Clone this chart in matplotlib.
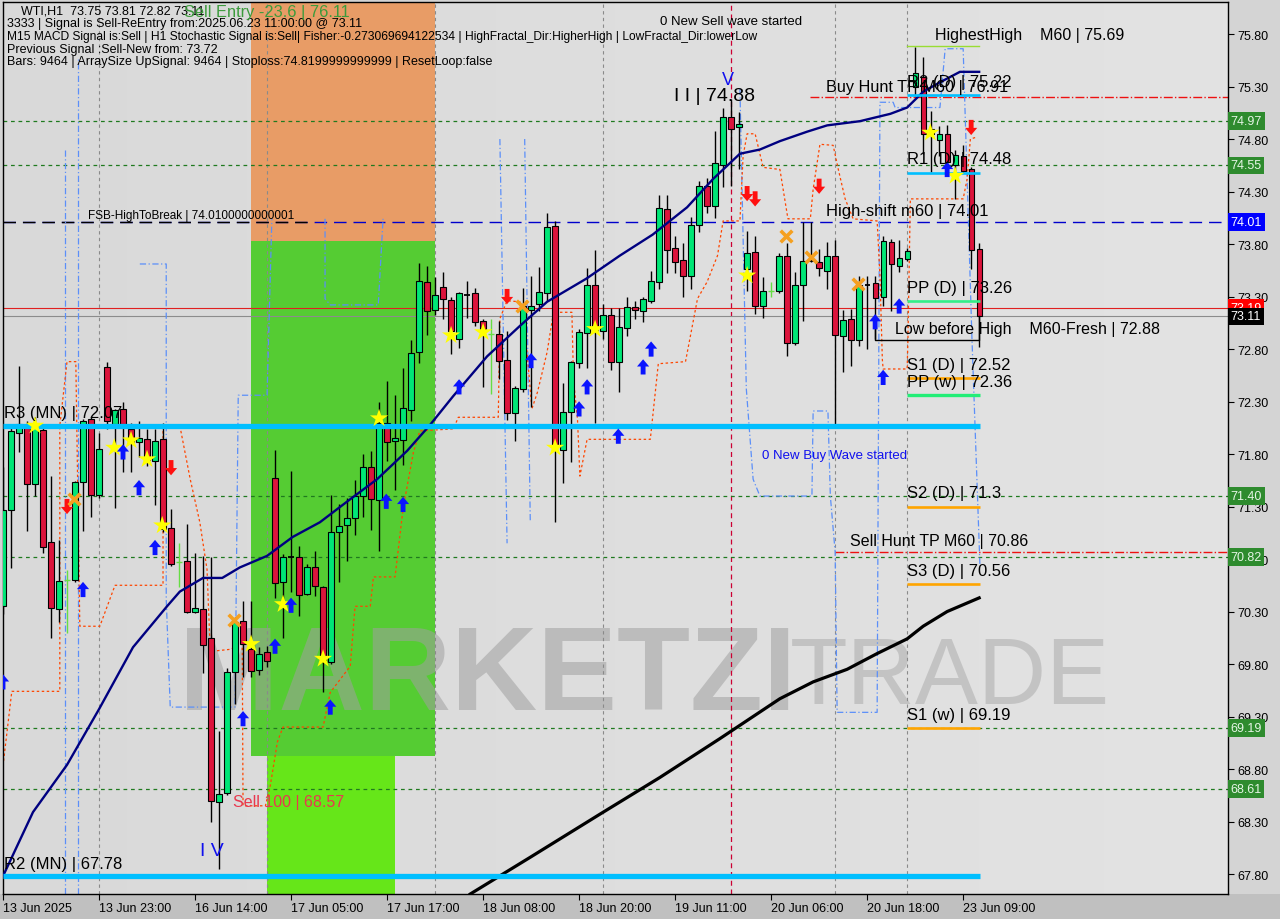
import matplotlib
matplotlib.use('Agg')
import numpy as np
import matplotlib.pyplot as plt
import matplotlib.patches as patches
from matplotlib.path import Path
from matplotlib.transforms import blended_transform_factory

plt.rcParams['font.family'] = ['Liberation Sans', 'DejaVu Sans']

# hourly WTI bars, index 0 = 13 Jun 11:00, last = 23 Jun 11:00
opens = [70.35, 71.27, 72.00, 72.05, 71.51, 72.03, 70.96, 70.32, 70.60, 70.60,
         71.53, 72.13, 71.41, 72.63, 72.09, 72.23, 72.04, 71.91, 71.94, 71.73,
         71.94, 71.10, 70.77, 70.78, 70.30, 70.32, 70.05, 68.49, 68.57, 69.72,
         70.21, 69.94, 69.74, 69.91, 71.57, 70.58, 70.82, 70.82, 70.47, 70.72,
         70.53, 69.82, 71.06, 71.12, 71.19, 71.40, 71.68, 71.36, 72.10, 71.92,
         71.93, 72.22, 72.77, 73.44, 73.17, 73.39, 73.27, 72.90, 73.31, 73.33,
         73.07, 72.94, 72.94, 72.70, 72.19, 72.42, 73.17, 73.23, 73.33, 73.97,
         71.84, 72.20, 72.67, 72.95, 73.41, 72.97, 73.12, 72.68, 73.00, 73.20,
         73.16, 73.26, 73.44, 74.13, 73.76, 73.65, 73.50, 73.98, 74.35, 74.16,
         74.55, 75.01, 74.91, 73.56, 73.72, 73.21, 73.35, 73.35, 73.69, 72.86,
         73.41, 73.64, 73.63, 73.54, 73.69, 72.92, 73.09, 72.89, 73.41, 73.43,
         73.30, 73.82, 73.59, 73.66, 75.30, 75.39, 74.90, 74.79, 74.85, 74.55,
         74.64, 74.51, 73.75]
highs = [71.68, 72.09, 72.64, 72.11, 72.15, 72.08, 71.59, 70.98, 70.70, 71.54,
         72.13, 72.15, 72.00, 72.68, 72.23, 72.30, 72.10, 72.11, 72.04, 72.04,
         72.10, 71.28, 70.95, 71.13, 70.86, 70.83, 70.82, 69.16, 69.76, 70.25,
         70.40, 70.40, 69.96, 69.97, 71.84, 70.85, 71.64, 70.92, 70.75, 70.88,
         70.54, 71.41, 71.32, 71.38, 71.55, 71.80, 71.83, 72.30, 72.50, 72.36,
         72.62, 72.89, 73.62, 73.59, 73.49, 73.53, 73.30, 73.34, 73.45, 73.38,
         73.09, 73.09, 73.07, 72.97, 72.45, 73.38, 73.50, 73.58, 74.10, 74.02,
         72.48, 72.69, 72.99, 73.57, 73.74, 73.23, 73.19, 73.19, 73.30, 73.26,
         73.30, 73.54, 74.27, 74.27, 73.88, 73.81, 74.06, 74.40, 74.43, 74.88,
         75.10, 75.18, 75.06, 73.92, 73.88, 73.49, 73.44, 73.71, 73.81, 73.53,
         74.01, 74.01, 73.75, 73.82, 73.84, 73.17, 73.18, 73.50, 73.50, 73.50,
         73.88, 73.85, 73.84, 73.76, 75.68, 75.58, 75.07, 74.92, 74.93, 74.70,
         74.74, 74.53, 73.81]
lows = [70.28, 70.71, 71.82, 71.07, 71.40, 70.86, 70.05, 70.20, 70.10, 70.58,
        71.07, 71.20, 71.38, 72.04, 71.29, 71.63, 71.63, 71.77, 71.69, 71.31,
        71.06, 70.73, 70.53, 70.29, 70.29, 69.71, 68.30, 67.85, 68.55, 69.42,
        69.68, 69.68, 69.70, 69.77, 70.43, 70.05, 70.49, 70.26, 70.46, 70.45,
        69.53, 69.80, 70.58, 70.78, 71.03, 71.20, 71.08, 70.88, 71.73, 71.46,
        71.70, 72.11, 72.67, 72.93, 73.12, 73.09, 72.75, 72.81, 73.10, 73.02,
        72.44, 72.37, 72.51, 72.12, 71.92, 72.39, 72.25, 73.16, 73.26, 71.15,
        71.52, 71.72, 72.62, 72.62, 72.10, 72.90, 72.60, 72.39, 72.92, 73.09,
        73.06, 73.24, 73.37, 73.52, 73.52, 73.30, 73.37, 73.91, 74.10, 74.05,
        74.34, 74.35, 74.51, 73.35, 73.13, 73.10, 73.30, 73.33, 72.73, 72.84,
        73.07, 73.63, 73.50, 73.37, 72.09, 72.58, 72.64, 72.83, 72.80, 72.90,
        73.21, 73.16, 73.53, 73.64, 75.21, 74.66, 74.49, 74.64, 74.47, 74.23,
        74.48, 73.56, 72.82]
closes = [71.27, 72.02, 72.09, 71.51, 72.09, 70.91, 70.33, 70.59, 70.60, 71.53,
          72.11, 71.41, 71.85, 72.11, 72.22, 72.09, 71.91, 71.95, 71.74, 71.92,
          71.09, 70.75, 70.77, 70.30, 70.33, 69.98, 68.50, 68.56, 69.72, 70.20,
          69.99, 69.73, 69.90, 69.83, 70.57, 70.82, 70.82, 70.46, 70.72, 70.54,
          69.82, 71.06, 71.11, 71.19, 71.40, 71.68, 71.37, 72.10, 71.91, 71.95,
          72.24, 72.76, 73.45, 73.16, 73.31, 73.28, 72.97, 73.33, 73.31, 73.06,
          72.99, 72.94, 72.69, 72.19, 72.43, 73.21, 73.21, 73.34, 73.96, 71.88,
          72.20, 72.68, 72.96, 73.41, 72.96, 73.12, 72.68, 73.01, 73.20, 73.17,
          73.28, 73.45, 74.14, 73.74, 73.63, 73.50, 73.98, 74.35, 74.16, 74.57,
          75.01, 74.90, 74.94, 73.71, 73.21, 73.35, 73.35, 73.69, 72.86, 73.41,
          73.64, 73.64, 73.57, 73.69, 72.93, 73.08, 72.89, 73.41, 73.41, 73.29,
          73.83, 73.61, 73.67, 73.73, 75.43, 74.85, 74.85, 74.85, 74.58, 74.65,
          74.50, 73.74, 73.11]
lime_doji = [8, 22, 61, 96]

tick_idx = [0, 12, 24, 36, 48, 60, 72, 84, 96, 108, 120]
tick_labels = ['13 Jun 2025', '13 Jun 23:00', '16 Jun 14:00', '17 Jun 05:00', '17 Jun 17:00',
               '18 Jun 08:00', '18 Jun 20:00', '19 Jun 11:00', '20 Jun 06:00', '20 Jun 18:00',
               '23 Jun 09:00']
price_ticks = [67.80, 68.30, 68.80, 69.30, 69.80, 70.30, 70.80, 71.30, 71.80, 72.30,
               72.80, 73.30, 73.80, 74.30, 74.80, 75.30, 75.80]

# navy moving average (bar index, price)
ma_fast_idx = [0, 3.75, 8, 12, 16.25, 20.5, 22.1, 25, 27.4, 29.6, 33, 36.2, 39.6, 43.4, 46.75,
               50.5, 53.4, 56.25, 60.5, 64.6, 68, 72.9, 77.1, 81.2, 85.5, 88.75, 92.1, 94.6,
               97.1, 100.5, 103, 107.1, 110.9, 113, 115, 117.1, 119.6, 122]
ma_fast_val = [67.78, 68.39, 68.84, 69.37, 69.96, 70.35, 70.49, 70.62, 70.62, 70.72, 70.83,
               71.01, 71.15, 71.37, 71.56, 71.83, 72.08, 72.35, 72.73, 73.02, 73.25, 73.47,
               73.69, 73.89, 74.15, 74.42, 74.66, 74.70, 74.78, 74.87, 74.93, 74.97, 75.04,
               75.10, 75.25, 75.34, 75.44, 75.44]
# black slow moving average
ma_slow_idx = [58.4, 65.9, 74.6, 82.1, 89.6, 97.1, 101.25, 105.5, 109.25, 113, 115, 118, 122]
ma_slow_val = [67.61, 67.96, 68.37, 68.72, 69.09, 69.47, 69.63, 69.75, 69.90, 70.04, 70.16,
               70.30, 70.43]
# orange trailing stop line
stop_idx = [0, 1.1, 7.1, 7.1, 8, 9.1, 9.6, 12.1, 14, 20, 20, 22.1, 23.4, 24.6, 25.5, 25.9,
            28.4, 29.9, 30, 32.8, 33.4, 34.3, 35, 40, 40.9, 43.4, 44, 45.9, 46.3, 49, 50,
            51.3, 52.1, 56.3, 56.9, 61.9, 62.1, 63, 64.6, 65.5, 66.1, 66.8, 68, 68.8, 71.1,
            71.3, 71.8, 72.1, 73, 80.9, 81.9, 85.3, 86.8, 88, 89.3, 90, 92.1, 92.5, 93, 94,
            95, 97.1, 98.1, 100.9, 101.25, 102.1, 103.75, 104.4, 105.25, 106.25, 109.25,
            109.6, 109.9, 110, 113, 113.1, 113.4, 120, 120.5, 120.9, 121.75]
stop_val = [68.83, 69.54, 69.54, 72.07, 72.68, 72.68, 70.16, 70.16, 70.55, 70.55, 72.07,
            72.07, 71.56, 71.15, 70.70, 69.92, 69.94, 69.99, 68.45, 68.45, 68.64, 69.06,
            69.20, 69.20, 69.53, 69.78, 70.35, 70.35, 70.63, 70.63, 71.28, 71.82, 72.02,
            72.04, 72.15, 72.15, 73.09, 73.26, 73.25, 72.77, 72.23, 72.39, 72.77, 73.15,
            73.15, 72.51, 72.13, 71.59, 71.94, 71.94, 72.66, 72.68, 73.28, 73.44, 73.69,
            74.02, 74.02, 74.64, 74.85, 74.85, 74.53, 74.51, 74.04, 74.04, 74.32, 74.75,
            74.74, 74.51, 74.23, 74.04, 74.02, 73.50, 72.70, 72.61, 72.61, 72.90, 74.23,
            74.23, 74.42, 74.80, 74.82]
# blue dashed channel pieces (bar index, price)
band_a_idx = [7.75, 7.75]
band_a_val = [74.70, 67.61]
band_b_idx = [9.4, 9.4]
band_b_val = [67.61, 75.56]
band_c_idx = [17.1, 20.4, 20.4, 20.9, 29.0, 29.4, 33.0, 33.6]
band_c_val = [73.61, 73.61, 70.42, 69.39, 69.39, 72.36, 72.36, 74.04]
band_d_idx = [40.25, 40.25, 40.9, 46.9, 47.5]
band_d_val = [74.04, 73.28, 73.22, 73.22, 74.04]
band_e_idx = [62.1, 63.0]
band_e_val = [74.80, 70.95]
band_f_idx = [65.2, 65.9]
band_f_val = [74.80, 71.15]
band_g_idx = [92.1, 92.9, 93.75, 94.6, 101.1, 101.25, 103.1, 103.4, 104, 104.25, 109.25,
              109.6, 111.25, 111.5, 117.1, 117.75, 120, 121.1, 122.1]
band_g_val = [75.28, 72.42, 71.56, 71.40, 71.40, 72.21, 72.21, 71.40, 70.87, 69.34, 69.34,
              75.15, 75.15, 75.10, 75.10, 75.66, 75.66, 72.90, 70.73]

# signal markers (bar index, price)
star_idx = [4, 13.9, 16, 18, 19.9, 31, 35, 40, 47, 56, 60, 69, 74, 93, 115.9, 119]
star_val = [72.07, 71.86, 71.93, 71.75, 71.12, 69.99, 70.37, 69.85, 72.14, 72.93, 72.96,
            71.86, 72.99, 73.50, 74.86, 74.45]
buy_idx = [0, 10, 15, 17, 19, 30, 34, 36, 40.9, 47.9, 50, 57, 66, 72, 73, 76.9, 80, 81,
           109, 112, 110, 118]
buy_val = [69.63, 70.51, 71.82, 71.48, 70.91, 69.28, 69.97, 70.36, 69.39, 71.35, 71.32,
           72.44, 72.69, 72.23, 72.44, 71.97, 72.63, 72.80, 73.06, 73.21, 72.53, 74.51]
sell_idx = [8, 21, 63, 93, 94, 102, 121]
sell_val = [71.30, 71.67, 73.30, 74.28, 74.23, 74.35, 74.91]
cross_idx = [8.9, 28.9, 64.9, 97.9, 101, 106.9]
cross_val = [71.37, 70.22, 73.21, 73.88, 73.68, 73.42]

# levels
r3_mn = 72.07
r2_mn = 67.78
green_levels = [74.97, 74.55, 71.40, 70.82, 69.19, 68.61]
high_shift = 74.01
buy_hunt = 75.20
sell_hunt = 70.87
bid_line = 73.11
ask_line = 73.19
pivots = [('R2 (D) | 75.22', 75.22, '#00bfff'), ('R1 (D) | 74.48', 74.48, '#00bfff'),
          ('PP (D) | 73.26', 73.26, '#33ee88'), ('S1 (D) | 72.52', 72.52, '#ffa500'),
          ('PP (w) | 72.36', 72.36, '#22ee77'), ('S2 (D) | 71.3', 71.30, '#ffa500'),
          ('S3 (D) | 70.56', 70.56, '#ffa500'), ('S1 (w) | 69.19', 69.19, '#ffa500')]
highest_high = 75.69

W, H = 1280, 920
fig = plt.figure(figsize=(W / 100, H / 100), dpi=100, facecolor='#d4d4d4')
fig.patches.append(patches.Rectangle((0, 0), 1, 25 / H, transform=fig.transFigure,
                                     facecolor='#c0c0c0', edgecolor='none', zorder=-5))
ax = fig.add_axes([3 / W, 25 / H, 1225 / W, 892 / H])
ax.set_xlim(0, 153.1)
ax.set_ylim(67.61, 76.105)

# background gradient
grad = np.linspace(0, 1, 256).reshape(1, -1)
bg_cmap = matplotlib.colors.LinearSegmentedColormap.from_list('bg', ['#d9d9d9', '#e3e3e3'])
ax.imshow(grad, extent=(0, 153.1, 67.61, 76.105), aspect='auto', cmap=bg_cmap, zorder=0)

# coloured zones
ax.add_patch(patches.Rectangle((31, 73.83), 23, 76.105 - 73.83, facecolor='#e89c66', edgecolor='none', zorder=0.5))
ax.add_patch(patches.Rectangle((31, 68.92), 23, 73.83 - 68.92, facecolor='#55cc33', edgecolor='none', zorder=0.5))
ax.add_patch(patches.Rectangle((33, 67.61), 16, 68.92 - 67.61, facecolor='#66e619', edgecolor='none', zorder=0.5))

# watermark
ax.text(22, 69.66, 'MARKETZI', fontsize=86, fontweight='bold', color='#a0a0a0', alpha=0.55,
        va='center', ha='left', zorder=0.8)
ax.text(98.4, 69.66, 'TRADE', fontsize=68, color='#b0b0b0', alpha=0.6, va='center', ha='left',
        zorder=0.8)

# vertical separators
for v in [12, 33, 54, 75, 104, 113]:
    ax.axvline(v, color='#8a8a8a', lw=0.8, ls=(0, (3, 3)), zorder=1)
ax.axvline(91, color='#cc0033', lw=0.9, ls=(0, (4, 3)), zorder=1)

# horizontal levels
for lv in green_levels:
    ax.axhline(lv, color='#1f7a1f', lw=0.9, ls=(0, (3, 3)), zorder=1.5)
ax.axhline(high_shift, color='#0000cc', lw=1.0, ls=(0, (9, 5)), zorder=1.5)
ax.plot([0, 38], [high_shift, high_shift], color='black', lw=1.0, ls=(0, (9, 5)), zorder=1.6)
ax.plot([100.9, 153.1], [buy_hunt, buy_hunt], color='#ee1111', lw=1.0, ls='-.', zorder=1.5)
ax.plot([104, 153.1], [sell_hunt, sell_hunt], color='#ee1111', lw=1.0, ls='-.', zorder=1.5)
ax.axhline(ask_line, color='#e02020', lw=0.8, zorder=1.5)
ax.axhline(bid_line, color='#8c8c8c', lw=0.8, zorder=1.5)

# blue dashed channel and orange trailing stop
for bx, by in [(band_a_idx, band_a_val), (band_b_idx, band_b_val), (band_c_idx, band_c_val),
               (band_d_idx, band_d_val), (band_e_idx, band_e_val), (band_f_idx, band_f_val),
               (band_g_idx, band_g_val)]:
    ax.plot(bx, by, color='#5b8ff9', lw=0.9, ls=(0, (5, 2, 1, 2)), zorder=2)
ax.plot(stop_idx, stop_val, color='#ff4500', lw=0.9, ls=(0, (2, 2)), zorder=2)

# candles
idx = np.arange(len(opens))
keep = [i for i in idx if i not in lime_doji]
ax.vlines(keep, [lows[i] for i in keep], [highs[i] for i in keep], color='black', lw=1.0, zorder=3)
for i in idx:
    o, c = opens[i], closes[i]
    if i in lime_doji:
        ax.vlines(i, lows[i], highs[i], color='#66dd44', lw=1.0, zorder=3)
        ax.hlines(c, i - 0.35, i + 0.35, color='#66dd44', lw=1.0, zorder=3)
    elif o == c:
        ax.hlines(c, i - 0.33, i + 0.33, color='black', lw=1.3, zorder=3.5)
    else:
        col = '#00e676' if c > o else '#dc143c'
        ax.add_patch(patches.Rectangle((i - 0.33, min(o, c)), 0.66, abs(c - o), facecolor=col,
                                       edgecolor='black', lw=0.8, zorder=3.5))

# moving averages
ax.plot(ma_fast_idx, ma_fast_val, color='#000080', lw=1.7, zorder=5)
ax.plot(ma_slow_idx, ma_slow_val, color='black', lw=2.3, zorder=5)

# monthly pivots
ax.plot([0, 122.1], [r3_mn, r3_mn], color='#00bfff', lw=3.8, zorder=5, solid_capstyle='butt')
ax.plot([0, 122.1], [r2_mn, r2_mn], color='#00bfff', lw=3.8, zorder=5, solid_capstyle='butt')
ax.text(0.1, r3_mn + 0.13, 'R3 (MN) | 72.07', fontsize=12, va='center', zorder=7)
ax.text(0.1, r2_mn + 0.12, 'R2 (MN) | 67.78', fontsize=12, va='center', zorder=7)

# daily / weekly pivots
for name, val, col in pivots:
    lw = 2.4 if name.startswith('PP (w)') else 1.9
    ax.plot([113, 122.1], [val, val], color=col, lw=lw, zorder=5, solid_capstyle='butt')
    ax.text(113, val + 0.13, name, fontsize=12, va='center', zorder=7)
ax.plot([113, 122], [highest_high, highest_high], color='#99dd33', lw=1.0, zorder=5)
ax.text(116.5, 75.80, 'HighestHigh    M60 | 75.69', fontsize=11.5, va='center', zorder=7)
ax.text(102.9, 75.30, 'Buy Hunt TP M60 | 76.91', fontsize=11.7, va='center', zorder=7)
ax.text(102.9, 74.12, 'High-shift m60 | 74.01', fontsize=12, va='center', zorder=7)
ax.text(105.9, 70.98, 'Sell Hunt TP M60 | 70.86', fontsize=11.5, va='center', zorder=7)
ax.text(10.6, 74.08, 'FSB-HighToBreak | 74.0100000000001', fontsize=8.5, va='center', zorder=7)

# low before high bracket
ax.plot([109, 109, 122, 122], [73.11, 72.89, 72.89, 73.11], color='black', lw=1.0, zorder=5)
ax.text(111.5, 73.00, 'Low before High    M60-Fresh | 72.88', fontsize=11.5, va='center', zorder=7)

# markers
up = Path([(0, 1), (0.8, 0.05), (0.32, 0.05), (0.32, -1), (-0.32, -1), (-0.32, 0.05),
           (-0.8, 0.05), (0, 1)], closed=True)
down = Path([(x, -y) for x, y in up.vertices], closed=True)
ax.scatter(star_idx, star_val, marker='*', s=190, color='#ffff00', edgecolors='none', zorder=6)
ax.scatter(buy_idx, buy_val, marker=up, s=120, color='#0a14ff', edgecolors='none', zorder=6)
ax.scatter(sell_idx, sell_val, marker=down, s=120, color='#ff1010', edgecolors='none', zorder=6)
ax.scatter(cross_idx, cross_val, marker='x', s=70, color='#f5a020', linewidths=2.6, zorder=6)

# wave labels
ax.text(83.9, 75.21, 'I I | 74.88', fontsize=14, va='center', zorder=7)
ax.text(89.8, 75.37, 'V', fontsize=13, color='#1010ee', va='center', zorder=7)
ax.text(24.6, 68.02, 'I V', fontsize=14, color='#1010ee', va='center', zorder=7)
ax.text(28.8, 68.49, 'Sell 100 | 68.57', fontsize=11.5, color='#e8384f', va='center', zorder=7)
ax.text(82.1, 75.92, '0 New Sell wave started', fontsize=9.5, va='center', zorder=7)
ax.text(94.9, 71.79, '0 New Buy Wave started', fontsize=9.5, color='#1010ee', va='center', zorder=7)

# axes styling
for s in ax.spines.values():
    s.set_color('black')
    s.set_linewidth(1.0)
ax.yaxis.tick_right()
ax.set_yticks(price_ticks)
ax.set_yticklabels(['%.2f' % p for p in price_ticks], fontsize=9)
ax.set_xticks(tick_idx)
ax.set_xticklabels(tick_labels, fontsize=9, ha='left')
ax.tick_params(axis='y', length=4, pad=3)
ax.tick_params(axis='x', length=4, pad=2)

# price boxes on the right axis
tr = blended_transform_factory(ax.transAxes, ax.transData)
for lv in green_levels:
    ax.text(1.002, lv, '%.2f' % lv, transform=tr, fontsize=9, color='#e6f5e6', va='center',
            ha='left', clip_on=False, zorder=20,
            bbox=dict(boxstyle='square,pad=0.22', facecolor='#2e8b2e', edgecolor='none'))
ax.text(1.002, high_shift, '74.01', transform=tr, fontsize=9, color='white', va='center', ha='left',
        clip_on=False, zorder=20, bbox=dict(boxstyle='square,pad=0.22', facecolor='#0000ff', edgecolor='none'))
ax.text(1.002, ask_line, '73.19', transform=tr, fontsize=9, color='white', va='center', ha='left',
        clip_on=False, zorder=20, bbox=dict(boxstyle='square,pad=0.22', facecolor='#ff0000', edgecolor='none'))
ax.text(1.002, bid_line, '73.11', transform=tr, fontsize=9, color='white', va='center', ha='left',
        clip_on=False, zorder=21, bbox=dict(boxstyle='square,pad=0.22', facecolor='black', edgecolor='none'))

# header block
hdr = [('3333 | Signal is Sell-ReEntry from:2025.06.23 11:00:00 @ 73.11', 24, 9),
       ('M15 MACD Signal is:Sell | H1 Stochastic Signal is:Sell| Fisher:-0.273069694122534 | '
        'HighFractal_Dir:HigherHigh | LowFractal_Dir:lowerLow', 37, 8.65),
       ('Previous Signal :Sell-New from: 73.72', 50, 9),
       ('Bars: 9464 | ArraySize UpSignal: 9464 | Stoploss:74.8199999999999 | ResetLoop:false', 62, 9)]
fig.text(21 / W, 1 - 12 / H, 'WTI,H1  73.75 73.81 72.82 73.11', fontsize=9, va='center')
for txt, y, fs in hdr:
    fig.text(7 / W, 1 - y / H, txt, fontsize=fs, va='center')
fig.text(184 / W, 1 - 12 / H, 'Sell Entry -23.6 | 76.11', fontsize=11.8, color='#3c9b3c', va='center')

plt.savefig('out.png', dpi=100, facecolor=fig.get_facecolor())
plt.close()
